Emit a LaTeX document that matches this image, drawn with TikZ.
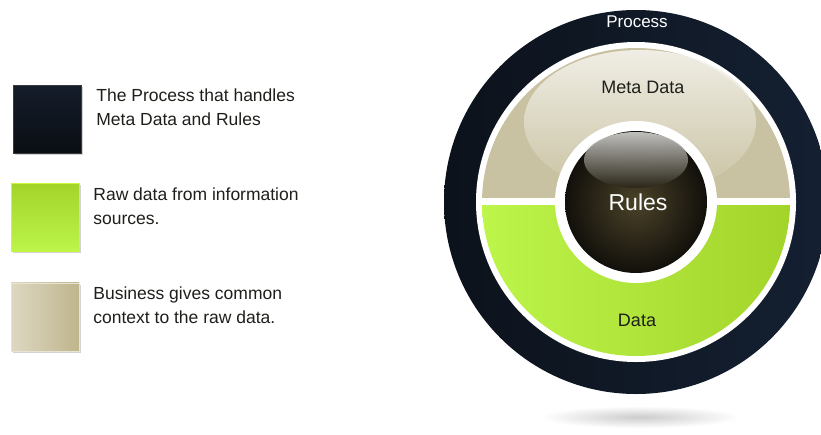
\documentclass[tikz,border=0pt]{standalone}
\usepackage{fontspec}
\setmainfont{Liberation Sans}
\usepackage{xcolor}
\usetikzlibrary{shapes}
\usetikzlibrary{shadows}
\usetikzlibrary{positioning}

\definecolor{procdark}{HTML}{0C121B}
\definecolor{procblue}{HTML}{142032}
\definecolor{proctop}{HTML}{151D2B}
\definecolor{procbot}{HTML}{0A0E13}
\definecolor{metabase}{HTML}{C9C2A2}
\definecolor{metalight}{HTML}{F7F6F1}
\definecolor{metaleft}{HTML}{DDD8C1}
\definecolor{metaright}{HTML}{BFB58D}
\definecolor{greenleft}{HTML}{BDF54B}
\definecolor{greenright}{HTML}{A3D42A}
\definecolor{rulesinner}{HTML}{4B4228}
\definecolor{rulesouter}{HTML}{12100B}
\definecolor{rulesgloss}{HTML}{D2D2D0}
\definecolor{legendink}{HTML}{1E1E1A}

\begin{document}
\begin{tikzpicture} [x=1pt, y=-1pt,
            % ----- Node definitions ----- %
            legendbox/.style = {
                draw,
                rectangle,
                minimum size=68pt,
                inner sep=0pt,
                drop shadow={shadow xshift=2pt, shadow yshift=-2pt, opacity=0.35}
            },
            legendtext/.style = {
                align=left,
                inner sep=0pt,
                text=legendink,
                font=\fontsize{17.5}{24}\selectfont
            },
            ringlabel/.style = {
                inner sep=0pt,
                font=\fontsize{18}{20}\selectfont
            },
    ]
    \useasboundingbox (0,0) rectangle (821,434);
    \coordinate (ctr) at (636,202);

            % ----- Circle construction ----- %
        \shade[inner color=gray!40, outer color=white] (640,417) ellipse[x radius=100pt, y radius=11pt];
        \shade[left color=procdark, right color=procblue] (ctr) circle[radius=192pt];
        \fill[white] (ctr) circle[radius=160pt];
        \begin{scope}
            \clip (470,30) rectangle (802,197);
            \fill[metabase] (ctr) circle[radius=154pt];
            \shade[top color=metalight, bottom color=metabase, opacity=0.85] (640,122) ellipse[x radius=116pt, y radius=72pt];
        \end{scope}
        \begin{scope}
            \clip (470,205) rectangle (802,370);
            \shade[left color=greenleft, right color=greenright] (ctr) circle[radius=154pt];
        \end{scope}
        \fill[white] (ctr) circle[radius=81pt];
        \shade[inner color=rulesinner, outer color=rulesouter] (ctr) circle[radius=71pt];
        \shade[top color=rulesgloss, bottom color=rulesouter!60!rulesinner, opacity=0.9] (636,160) ellipse[x radius=52pt, y radius=28pt];

            % ----- Node constructions ----- %
        \node [ringlabel, text=white, font=\fontsize{17}{20}\selectfont] (proclabel) at (637,22) {Process};
        \node [ringlabel, text=legendink] (metalabel) at (643,87) {Meta Data};
        \node [ringlabel, text=white, font=\fontsize{23}{26}\selectfont] (ruleslabel) at (638,202) {Rules};
        \node [ringlabel, text=legendink] (datalabel) at (637,320) {Data};

        \node [legendbox, draw=procbot!60!gray, top color=proctop, bottom color=procbot] (procbox) at (47,119) {};
        \node [legendbox, draw=greenleft!80!yellow, top color=greenright, bottom color=greenleft, below=30pt of procbox, xshift=-2pt] (databox) {};
        \node [legendbox, draw=metaleft!70!white, left color=metaleft, right color=metaright, below=31pt of databox] (metabox) {};

        \node [legendtext, right=15pt of procbox.north east, anchor=north west, yshift=-4pt] (proctext) {The Process that handles\\Meta Data and Rules};
        \node [legendtext, right=14pt of databox.north east, anchor=north west, yshift=-4pt] (datatext) {Raw data from information\\sources.};
        \node [legendtext, right=14pt of metabox.north east, anchor=north west, yshift=-4pt] (metatext) {Business gives common\\context to the raw data.};
          
\end{tikzpicture}
\end{document}
